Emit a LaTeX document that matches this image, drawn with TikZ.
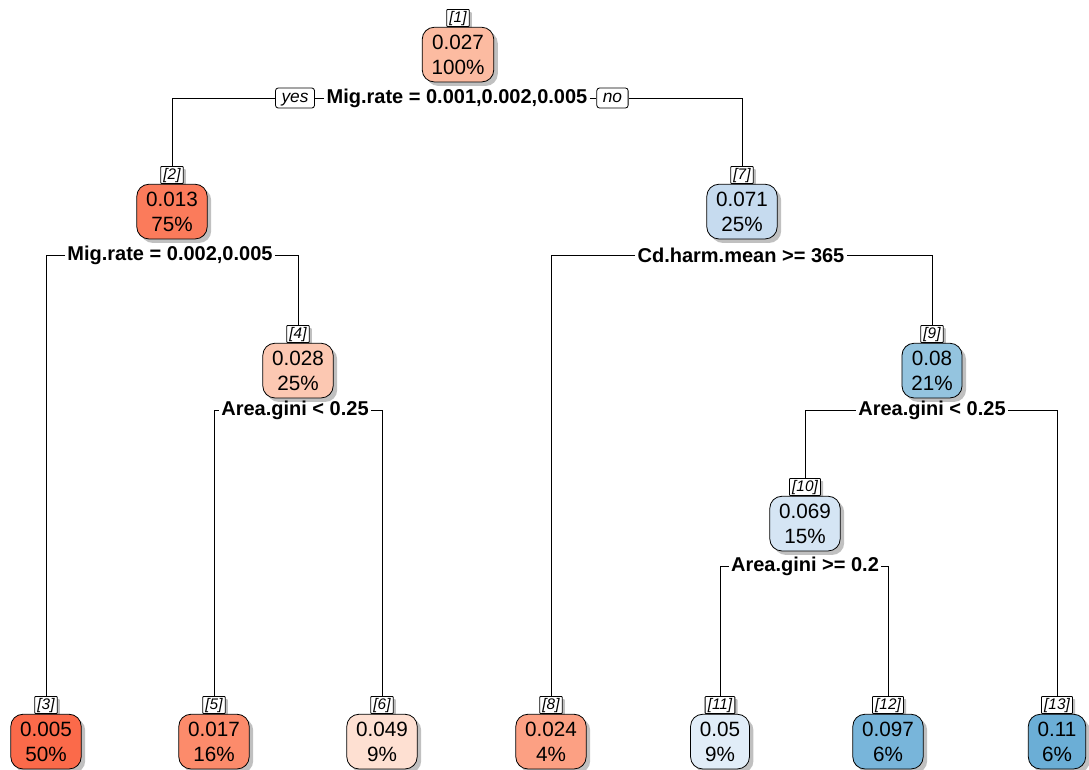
\documentclass[tikz,border=0pt]{standalone}
\usepackage{fontspec}
\setmainfont{Liberation Sans}
\usetikzlibrary{positioning,shadows}

% node fills, reds for low values, blues for high ones
\definecolor{c1}{HTML}{FCBBA1}
\definecolor{c2}{HTML}{FB7B5B}
\definecolor{c3}{HTML}{FB6A4A}
\definecolor{c4}{HTML}{FCC8B2}
\definecolor{c5}{HTML}{FC8B6B}
\definecolor{c6}{HTML}{FEE0D2}
\definecolor{c7}{HTML}{C6DBEF}
\definecolor{c8}{HTML}{FCA083}
\definecolor{c9}{HTML}{94C4DF}
\definecolor{c10}{HTML}{D5E5F4}
\definecolor{c11}{HTML}{E1EDF8}
\definecolor{c12}{HTML}{78B5DA}
\definecolor{c13}{HTML}{6BAED6}

\begin{document}
\begin{tikzpicture}[x=0.75pt, y=-0.75pt, line width=0.6pt,
	val/.style={draw,
		rounded corners=9pt,
		align=center,
		minimum height=41pt,
		inner xsep=7pt,
		font=\fontsize{15.5}{19}\selectfont,
		drop shadow={shadow xshift=3pt, shadow yshift=-3pt, fill=black!45, opacity=0.55}},
	idx/.style={draw,
		fill=white,
		rounded corners=0.5pt,
		inner xsep=2pt, inner ysep=0.5pt,
		text height=9pt, text depth=2.7pt,
		font=\fontsize{11.5}{13}\selectfont\itshape,
		drop shadow={shadow xshift=2pt, shadow yshift=-2pt, fill=black!45, opacity=0.55}},
	split/.style={inner xsep=1.5pt, inner ysep=1pt,
		font=\fontsize{15}{17}\selectfont\bfseries},
	yesno/.style={draw,
		fill=white,
		rounded corners=2pt,
		inner xsep=4.5pt, inner ysep=1.5pt,
		text height=9pt, text depth=3pt,
		font=\fontsize{13}{15}\selectfont\itshape}]
	
	\useasboundingbox (0,0) rectangle (1089,769);
	
	% Root
	\node [idx] (l1) at (458,18) {[1]};
	\node [val, fill=c1, below=0pt of l1] (n1) {0.027\\100\%};
	\node [split] (s1) at (457,98) {Mig.rate = 0.001,0.002,0.005};
	\node [yesno, left=7pt of s1] (yes) {yes};
	\node [yesno, right=5pt of s1] (no) {no};
	
	% Left branch
	\node [idx] (l2) at (172,175) {[2]};
	\node [val, fill=c2, below=0pt of l2] (n2) {0.013\\75\%};
	\node [split] (s2) at (170,255) {Mig.rate = 0.002,0.005};
	
	\node [idx] (l4) at (298,334) {[4]};
	\node [val, fill=c4, below=0pt of l4] (n4) {0.028\\25\%};
	\node [split] (s4) at (295,410) {Area.gini < 0.25};
	
	% Right branch
	\node [idx] (l7) at (742,175) {[7]};
	\node [val, fill=c7, below=0pt of l7] (n7) {0.071\\25\%};
	\node [split] (s7) at (741,255) {Cd.harm.mean >= 365};
	
	\node [idx] (l9) at (932,334) {[9]};
	\node [val, fill=c9, below=0pt of l9] (n9) {0.08\\21\%};
	\node [split] (s9) at (932,410) {Area.gini < 0.25};
	
	\node [idx] (l10) at (805,487) {[10]};
	\node [val, fill=c10, below=0pt of l10] (n10) {0.069\\15\%};
	\node [split] (s10) at (805,566) {Area.gini >= 0.2};
	
	% Leaves
	\node [idx] (l3) at (46,705) {[3]};
	\node [val, fill=c3, below=0pt of l3] (n3) {0.005\\50\%};
	\node [idx] (l5) at (214,705) {[5]};
	\node [val, fill=c5, below=0pt of l5] (n5) {0.017\\16\%};
	\node [idx] (l6) at (382,705) {[6]};
	\node [val, fill=c6, below=0pt of l6] (n6) {0.049\\9\%};
	\node [idx] (l8) at (551,705) {[8]};
	\node [val, fill=c8, below=0pt of l8] (n8) {0.024\\4\%};
	\node [idx] (l11) at (720,705) {[11]};
	\node [val, fill=c11, below=0pt of l11] (n11) {0.05\\9\%};
	\node [idx] (l12) at (888,705) {[12]};
	\node [val, fill=c12, below=0pt of l12] (n12) {0.097\\6\%};
	\node [idx] (l13) at (1057,705) {[13]};
	\node [val, fill=c13, below=0pt of l13] (n13) {0.11\\6\%};
	
	% Split branches
	\draw (s1.west) -- (yes.east);
	\draw (yes.west) -| (l2.north);
	\draw (s1.east) -- (no.west);
	\draw (no.east) -| (l7.north);
	
	\draw (s2.west) -| (l3.north);
	\draw (s2.east) -| (l4.north);
	\draw (s4.west) -| (l5.north);
	\draw (s4.east) -| (l6.north);
	
	\draw (s7.west) -| (l8.north);
	\draw (s7.east) -| (l9.north);
	\draw (s9.west) -| (l10.north);
	\draw (s9.east) -| (l13.north);
	\draw (s10.west) -| (l11.north);
	\draw (s10.east) -| (l12.north);
	
\end{tikzpicture}
\end{document}
